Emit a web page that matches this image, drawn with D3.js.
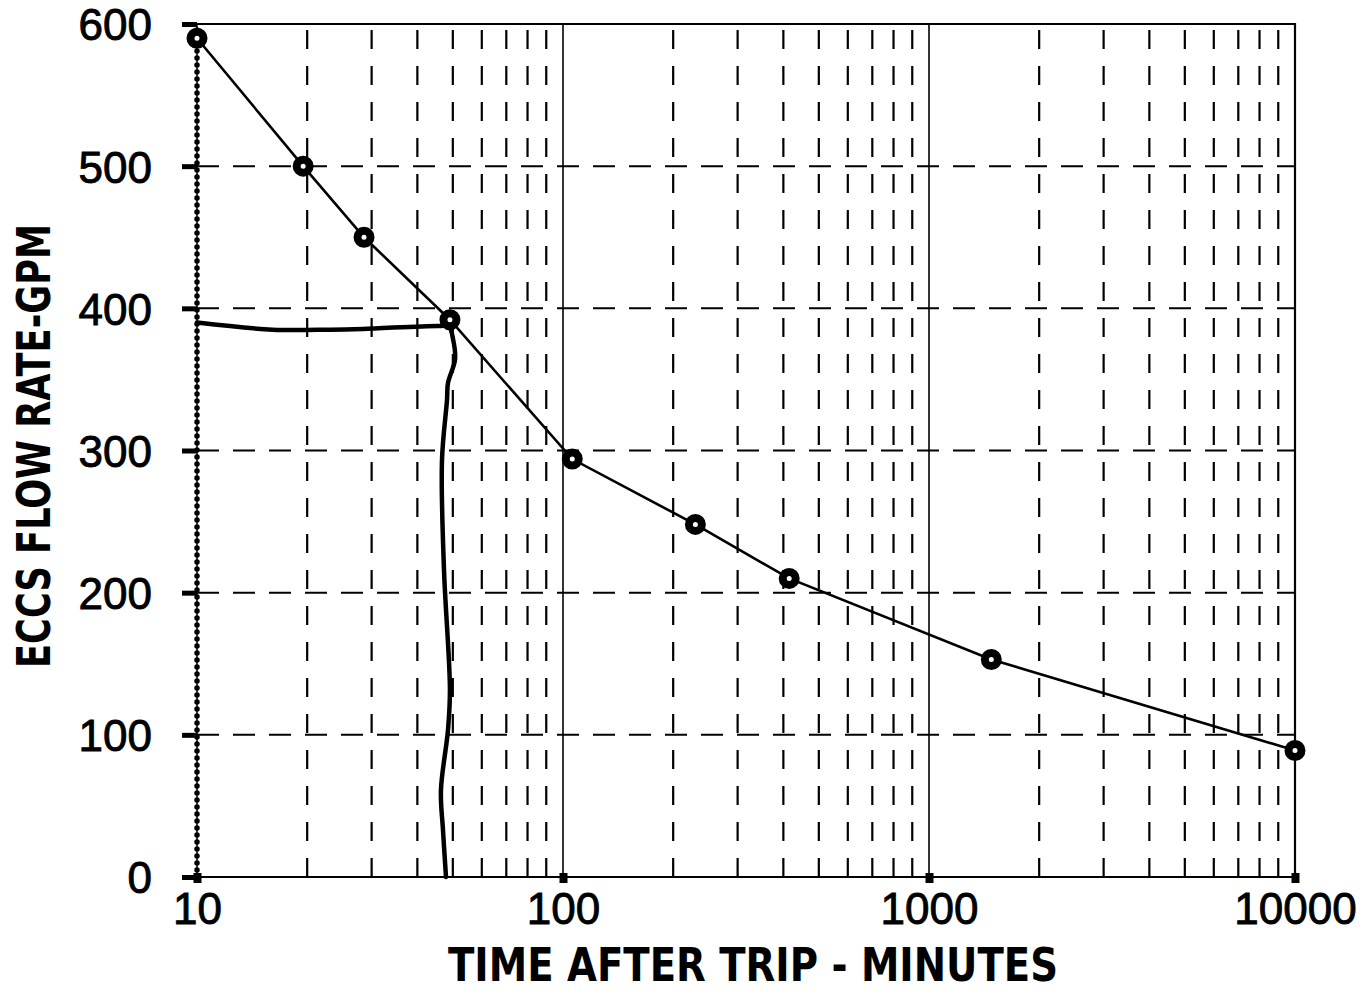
<!DOCTYPE html>
<html>
<head>
<meta charset="utf-8">
<script src="https://cdn.jsdelivr.net/npm/d3@7"></script>
<style>
    body { margin: 0; background: #fff; }
    .tick text { font-family: "Liberation Sans", Arial, sans-serif; fill: #000; stroke: #000; stroke-width: 0.9px; }
    .label { font-family: "Liberation Sans Narrow", "DejaVu Sans Condensed", sans-serif; font-weight: bold; fill: #000; }
</style>
</head>
<body>
<div id="chart"></div>
<script>
// ECCS flow rate curve (circles)
var flowTimes = [10, 19.5, 28.6, 49.1, 106, 230, 415, 1480, 10000];
var flowRates = [590, 500, 450, 392, 294, 248, 210, 153, 89];

// hand drawn read-off line
var traceTimes = [10, 16.1, 23.1, 28.4, 46.1, 48.8, 50.1, 50.7, 48.5, 48.2, 46.7, 47.3, 49.1, 48.5, 46.4, 47.0, 47.9];
var traceRates = [390, 385, 385, 385.5, 387.6, 387, 378, 364, 347.5, 335.5, 293, 216, 131.5, 103.4, 61, 33, 0];

var xTicks = [10, 100, 1000, 10000];
var xTickLabels = ["10", "100", "1000", "10000"];
var yTicks = [0, 100, 200, 300, 400, 500, 600];
var yTickLabels = ["0", "100", "200", "300", "400", "500", "600"];

var xTitle = "TIME AFTER TRIP - MINUTES";
var yTitle = "ECCS FLOW RATE-GPM";

drawChart();

function drawChart() {
    var margin = { top: 24, right: 66, bottom: 116, left: 197 };
    var width = 1361 - margin.left - margin.right;
    var height = 993 - margin.top - margin.bottom;

    var x = d3.scaleLog()
        .domain([10, 10000])
        .range([0, width]);

    var y = d3.scaleLinear()
        .domain([0, 600])
        .range([height, 0]);

    var svg = d3.select("#chart").append("svg")
        .attr("width", width + margin.left + margin.right)
        .attr("height", height + margin.top + margin.bottom)
        .append("g")
        .attr("transform", "translate(" + margin.left + "," + margin.top + ")");

    // minor vertical grid (dashed)
    var minor = x.ticks().filter(function(t) { return xTicks.indexOf(t) < 0; });
    svg.selectAll(".vgrid")
        .data(minor)
        .enter().append("line")
        .attr("class", "vgrid")
        .attr("x1", function(d) { return x(d); })
        .attr("x2", function(d) { return x(d); })
        .attr("y1", height)
        .attr("y2", 0)
        .style("stroke", "#000")
        .style("stroke-width", 2.2)
        .style("stroke-dasharray", "19,17");

    // decade lines (solid)
    svg.selectAll(".dgrid")
        .data(xTicks.slice(1, 3))
        .enter().append("line")
        .attr("class", "dgrid")
        .attr("x1", function(d) { return x(d); })
        .attr("x2", function(d) { return x(d); })
        .attr("y1", height)
        .attr("y2", 0)
        .style("stroke", "#000")
        .style("stroke-width", 1.6);

    // horizontal grid (dashed)
    svg.selectAll(".hgrid")
        .data(yTicks.slice(1, 6))
        .enter().append("line")
        .attr("class", "hgrid")
        .attr("x1", 0)
        .attr("x2", width)
        .attr("y1", function(d) { return y(d); })
        .attr("y2", function(d) { return y(d); })
        .style("stroke", "#000")
        .style("stroke-width", 2)
        .style("stroke-dasharray", "22,14");

    // frame: top, right, bottom
    svg.append("path")
        .attr("d", "M" + x(10) + "," + y(600) + "H" + x(10000) + "V" + y(0) + "H" + x(10))
        .style("fill", "none")
        .style("stroke", "#000")
        .style("stroke-width", 2.2);

    // dotted left axis
    svg.append("line")
        .attr("x1", 0).attr("x2", 0)
        .attr("y1", y(0)).attr("y2", y(600))
        .style("stroke", "#000")
        .style("stroke-width", 1.5);
    svg.append("line")
        .attr("x1", 0).attr("x2", 0)
        .attr("y1", y(0)).attr("y2", y(600))
        .style("stroke", "#000")
        .style("stroke-width", 5.5)
        .style("stroke-linecap", "round")
        .style("stroke-dasharray", "0,7");

    // axes
    var yAxis = svg.append("g")
        .call(d3.axisLeft(y)
            .tickValues(yTicks)
            .tickSize(15)
            .tickPadding(30)
            .tickFormat(function(d, i) { return yTickLabels[i]; }));
    yAxis.select(".domain").remove();
    yAxis.selectAll(".tick line").style("stroke-width", 5);
    yAxis.selectAll(".tick text").style("font-size", "44px").attr("dy", "0.36em");

    var xAxis = svg.append("g")
        .attr("transform", "translate(0," + height + ")")
        .call(d3.axisBottom(x)
            .tickValues(xTicks)
            .tickSize(6)
            .tickPadding(10)
            .tickFormat(function(d, i) { return xTickLabels[i]; }));
    xAxis.select(".domain").remove();
    xAxis.selectAll(".tick line").style("stroke-width", 8).attr("y1", -4);
    xAxis.selectAll(".tick text").style("font-size", "44px");

    // hand drawn read-off line
    var traceData = traceTimes.map(function(t, i) { return { time: t, rate: traceRates[i] }; });
    var traceLine = d3.line()
        .curve(d3.curveCatmullRom)
        .x(function(d) { return x(d.time); })
        .y(function(d) { return y(d.rate); });
    svg.append("path")
        .attr("d", traceLine(traceData))
        .style("fill", "none")
        .style("stroke", "#000")
        .style("stroke-width", 4.5)
        .style("stroke-linejoin", "round")
        .style("stroke-linecap", "round");

    // flow rate curve
    var flowData = flowTimes.map(function(t, i) { return { time: t, rate: flowRates[i] }; });
    var line = d3.line()
        .x(function(d) { return x(d.time); })
        .y(function(d) { return y(d.rate); });
    svg.append("path")
        .attr("d", line(flowData))
        .style("fill", "none")
        .style("stroke", "#000")
        .style("stroke-width", 2.6);

    svg.selectAll(".pt")
        .data(flowData)
        .enter().append("circle")
        .attr("class", "pt")
        .attr("cx", function(d) { return x(d.time); })
        .attr("cy", function(d) { return y(d.rate); })
        .attr("r", 6.5)
        .style("fill", "#fff")
        .style("stroke", "#000")
        .style("stroke-width", 8);

    // titles
    svg.append("text")
        .attr("class", "label")
        .attr("x", 753 - margin.left)
        .attr("y", 981 - margin.top)
        .attr("text-anchor", "middle")
        .attr("textLength", 610)
        .attr("lengthAdjust", "spacingAndGlyphs")
        .style("font-size", "46px")
        .text(xTitle);

    svg.append("text")
        .attr("class", "label")
        .attr("transform", "translate(" + (50 - margin.left) + "," + (446 - margin.top) + ") rotate(-90)")
        .attr("text-anchor", "middle")
        .attr("textLength", 444)
        .attr("lengthAdjust", "spacingAndGlyphs")
        .style("font-size", "46px")
        .text(yTitle);
}
</script>
</body>
</html>
